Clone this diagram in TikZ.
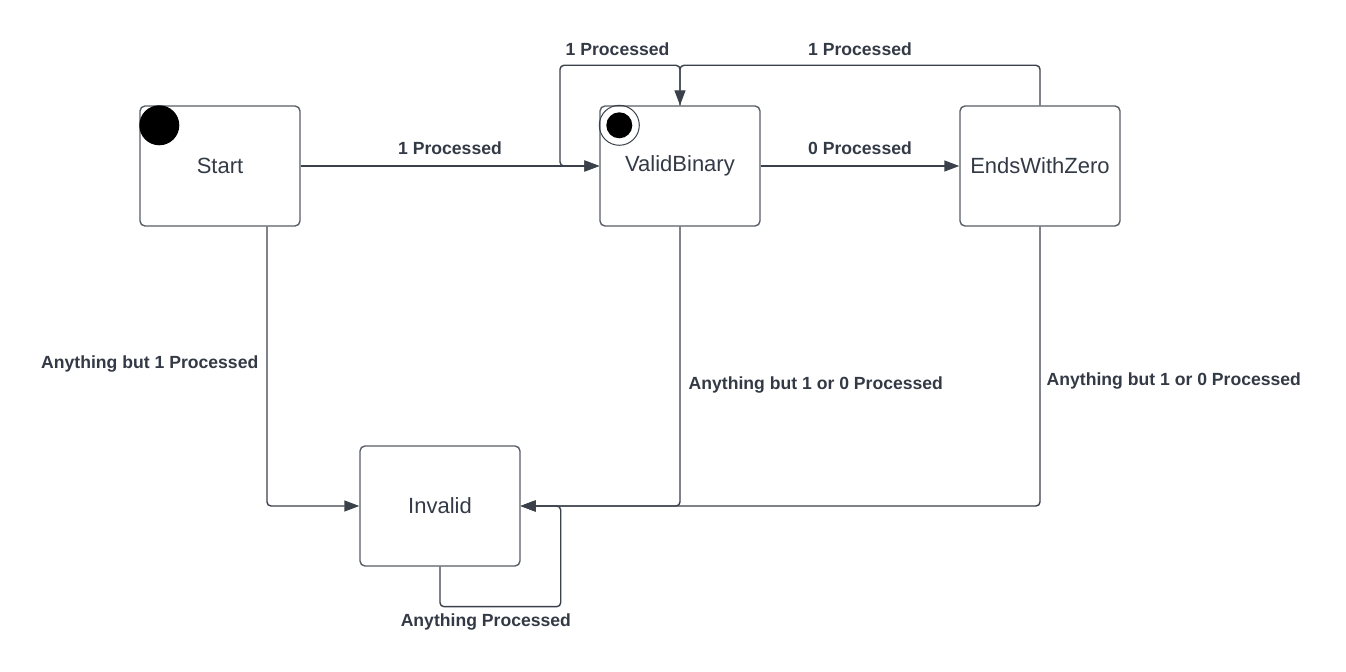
\documentclass[tikz,border=0pt]{standalone}
\usepackage{fontspec}
\setmainfont{Liberation Sans}
\usetikzlibrary{arrows.meta}
\definecolor{linegray}{HTML}{3A414A}
\definecolor{textgray}{HTML}{333A45}

\begin{document}
\begin{tikzpicture}[x=0.5pt,y=-0.5pt,>={Triangle[length=7.5pt,width=5.5pt]},line width=0.7pt,
    state/.style={draw=linegray!85,rounded corners=2.5pt,minimum width=80pt,minimum height=60pt,inner sep=0pt,text=textgray,font=\fontsize{11pt}{13pt}\selectfont},
    arr/.style={->,draw=linegray,rounded corners=2pt},
    lbl/.style={text=textgray,font=\fontsize{8.8pt}{10pt}\selectfont\bfseries,inner sep=3pt}]
    \useasboundingbox (0,0) rectangle (1346,672);

    \node[state] (start) at (220,166) {Start};
    \node[state] (valid) at (680,166) {ValidBinary};
    \node[state] (ends) at (1040,166) {EndsWithZero};
    \node[state] (invalid) at (440,506) {Invalid};

    % start and final markers
    \fill ([xshift=10pt,yshift=-10pt]start.north west) circle (10pt);
    \draw[linegray,line width=0.5pt] ([xshift=10pt,yshift=-10pt]valid.north west) circle (10pt);
    \fill ([xshift=10pt,yshift=-10pt]valid.north west) circle (6.5pt);

    \draw[arr] (start.east) -- (valid.west) node[lbl,midway,above=2.5pt] {1 Processed};
    \draw[arr] (valid.east) -- (ends.west) node[lbl,midway,above=2.5pt] {0 Processed};
    \draw[arr] (valid.north) -- ++(0,-40) -- ++(-120,0) node[lbl,pos=0.52,above=1.5pt] {1 Processed} |- (valid.west);
    \draw[arr] (ends.north) -- ++(0,-40) -| (valid.north) node[lbl,pos=0.25,above=1.5pt] {1 Processed};

    \draw[arr] ([xshift=23.5pt]start.south) |- (invalid.west) node[lbl,pos=0.245,left=1pt] {Anything but 1 Processed};
    \draw[arr] (valid.south) |- (invalid.east) node[lbl,pos=0.283,right=1pt] {Anything but 1 or 0 Processed};
    \draw[arr] (ends.south) |- (invalid.east) node[lbl,pos=0.276,right=0pt] {Anything but 1 or 0 Processed};
    \draw[arr] (invalid.south) -- ++(0,40) -| ([xshift=20pt]invalid.east) node[lbl,pos=0.19,below=0pt] {Anything Processed} -- (invalid.east);
\end{tikzpicture}
\end{document}
